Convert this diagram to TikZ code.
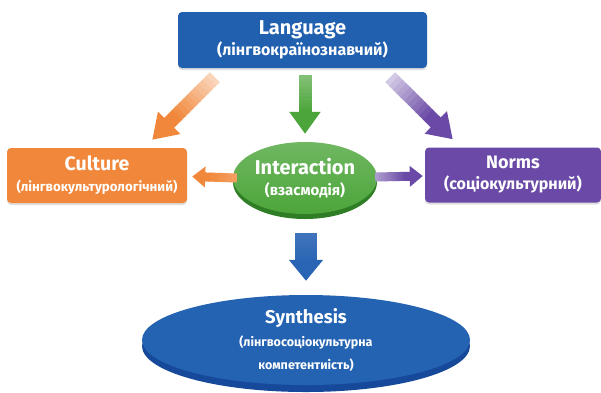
\documentclass[tikz,border=0pt]{standalone}
\usepackage{fontspec}
\setmainfont{Fira Sans}
\usetikzlibrary{shapes.geometric,arrows.meta,shadows,calc}
\definecolor{langblue}{HTML}{2060AF}
\definecolor{cultor}{HTML}{F1873A}
\definecolor{normpur}{HTML}{6A4AA6}
\definecolor{intgreen}{HTML}{4CA53A}
\definecolor{intrim}{HTML}{2F7D25}
\definecolor{synblue}{HTML}{2462B2}
\definecolor{synrim}{HTML}{17499A}
\definecolor{arrblue}{HTML}{2A64B4}
\newcommand\ttl[1]{\bfseries\fontsize{#1}{24}\selectfont}
\newcommand\subt[1]{\bfseries\fontsize{#1}{24}\selectfont}
% #1 start, #2 tip, #3 colour, #4 shaft width, #5 head width, #6 head length, #7 start tint
\newcommand\fadearrow[7]{%
  \foreach \i in {0,...,9}{%
    \pgfmathsetmacro\pa{\i/10*0.6}%
    \pgfmathsetmacro\pb{(\i+1)/10*0.6+0.01}%
    \pgfmathsetmacro\mix{#7+(100-#7)*\i/10}%
    \draw[line width=#4, draw=#3!\mix!white] ($(#1)!\pa!(#2)$) -- ($(#1)!\pb!(#2)$);
  }%
  \draw[line width=#4, draw=#3, -{Triangle[length=#6,width=#5]}] ($(#1)!0.6!(#2)$) -- (#2);
}
\tikzset{
  box/.style={rectangle, rounded corners=4pt, text=white, align=center, inner sep=0pt,
    font=\fontsize{14}{21}\selectfont,
    minimum height=55pt, drop shadow={opacity=0.25, shadow xshift=0pt, shadow yshift=-2pt}},
  oval/.style={ellipse, text=white, align=center, inner sep=0pt, font=\fontsize{14}{21}\selectfont}
}
\begin{document}
\begin{tikzpicture}[x=1pt,y=-1pt]
\useasboundingbox[fill=white] (0,0) rectangle (601,392);

% nodes
\node[box, fill=langblue, minimum width=249pt, minimum height=56pt] (lang) at (302.5,40)
  {\ttl{20}Language\\\subt{16}(лінгвокраїнознавчий)};
\node[box, fill=cultor, minimum width=180pt] (cult) at (97,175.5)
  {\ttl{19.5}Culture\\\subt{13.3}(лінгвокультурологічний)};
\node[box, fill=normpur, minimum width=176pt] (norms) at (513,175)
  {\ttl{18}Norms\\\subt{16}(соціокультурний)};

% Interaction ellipse with rim
\fill[intrim] (305,182) ellipse [x radius=72, y radius=37];
\node[oval, top color=intgreen!80!white, bottom color=intgreen, minimum width=144pt, minimum height=72pt] (inter) at (305,178)
  {\ttl{20}Interaction\\\subt{15}(взасмодія)};

% Synthesis ellipse with rim
\fill[synrim] (306,346) ellipse [x radius=164, y radius=46];
\node[oval, fill=synblue, minimum width=328pt, minimum height=90pt, font=\fontsize{14}{23}\selectfont] (synth) at (306,340)
  {\ttl{18.5}Synthesis\\\subt{12.5}(лінгвосоціокультурна\\\subt{12.5}компетентиість)};

% connector end points
\coordinate (oA) at ($(lang.south west)+(37,9)$);
\coordinate (oC) at ($(cult.north east)+(-35,-8)$);
\coordinate (gA) at ($(lang.south)+(2.5,7)$);
\coordinate (gC) at ($(inter.north)+(0,-8)$);
\coordinate (pA) at ($(lang.south east)+(-37,9)$);
\coordinate (pC) at ($(norms.north west)+(28,-8)$);
\coordinate (ohA) at ($(inter.west)+(4,0)$);
\coordinate (ohC) at ($(cult.east)+(5,1)$);
\coordinate (phA) at ($(inter.east)+(-2,-1)$);
\coordinate (phC) at ($(norms.west)+(-2,1)$);
\coordinate (bA) at ($(inter.south)+(1,19)$);
\coordinate (bC) at ($(synth.north)+(0,-14)$);

% connectors
\fadearrow{oA}{oC}{cultor}{14pt}{30pt}{24pt}{35}
\fadearrow{gA}{gC}{intgreen}{13pt}{30pt}{22pt}{70}
\fadearrow{pA}{pC}{normpur}{14pt}{30pt}{24pt}{30}
\fadearrow{ohA}{ohC}{cultor}{9pt}{20pt}{13pt}{80}
\fadearrow{phA}{phC}{normpur}{9pt}{20pt}{13pt}{55}
\fadearrow{bA}{bC}{arrblue}{22pt}{33pt}{21pt}{90}
\end{tikzpicture}
\end{document}
